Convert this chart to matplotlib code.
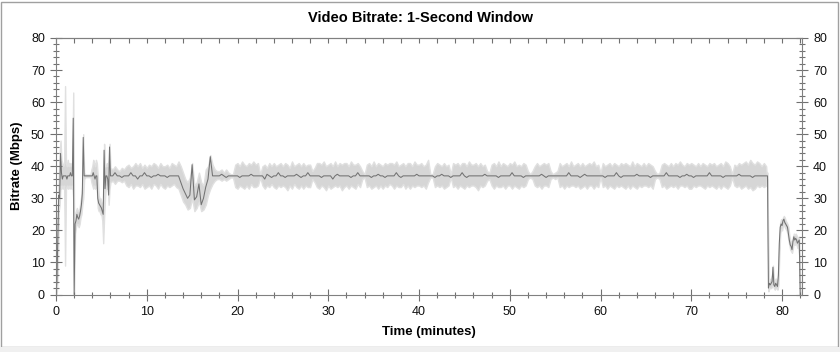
import numpy as np
import matplotlib
matplotlib.use("Agg")
import matplotlib.pyplot as plt
from matplotlib.ticker import MultipleLocator
from matplotlib.patches import Rectangle

plt.rcParams["font.family"] = ["Liberation Sans", "DejaVu Sans"]

# sample grid (minutes): fine at start/end, 15 s in the steady part
t_min = np.concatenate([np.arange(60) * 0.1, 6 + np.arange(290) * 0.25, 78.3 + np.arange(38) * 0.1])

# dark trace (Mbps)
rate = [
    # 0.0 - 5.9 (0.1 min)
    0.5, 4, 18, 31, 30, 44, 38, 36, 37, 37,
    37, 37, 36, 37, 37, 37, 38, 37, 37, 55,
    0, 22, 23, 25, 24, 23.5, 24.5, 26, 28, 31.5,
    49, 37, 37, 37, 37, 37, 37, 37, 37, 37,
    37, 38, 37, 36, 37, 37, 30, 28.5, 28, 27.5,
    27, 26, 25, 45, 33, 37, 37, 36, 31, 46,
    # 6.0 - 78.25 (0.25 min)
    37, 37, 38, 37,  37, 36.5, 37, 37,  37, 38, 37, 37,  36, 37, 37, 38,
    37, 37, 36.5, 37,  37, 37.5, 37, 37,  37, 36.5, 37, 37,  37, 37, 37, 35,
    33, 31.5, 30, 31,  40.5, 29.5, 30.5, 34.5,  28, 30, 33.5, 36,  43, 37, 37, 37,
    37, 37.5, 37, 36.5,  37, 37, 37, 37,  37, 36.5, 37, 37,  37, 37, 37.5, 37,
    37, 37, 37, 37,  36, 37.5, 37, 36.5,  37, 37, 38, 37,  37, 36.5, 37, 37,
    37, 37, 37.5, 37,  36.5, 37, 37, 38,  37, 37, 37, 37,  37, 36.5, 37, 37,
    37, 37, 36, 37,  37.5, 37, 37, 37,  37, 37, 36.5, 37,  37, 38, 37, 37,
    37, 37, 37, 36.5,  37, 37, 37.5, 37,  37, 36.5, 37, 37,  37, 37, 38, 37,
    36.5, 37, 37, 37,  37, 37, 37, 37.5,  37, 37, 37, 37,  37, 37, 37, 36.5,
    37, 37, 37.5, 37,  37, 37, 36.5, 37,  37, 37, 37, 38,  37, 36.5, 37, 37,
    37, 37, 37, 37,  37, 37.5, 37, 37,  37, 37, 37, 36.5,  37, 37, 37, 37,
    37, 38, 37, 37,  37, 37, 36.5, 37,  37, 37, 37, 37,  37, 37, 37.5, 37,
    36.5, 37, 37, 37,  37, 37, 37, 37,  37, 37, 38, 37,  37, 37, 37, 36.5,
    37, 37.5, 37, 37,  37, 37, 37, 37,  37, 37, 36.5, 37,  37, 37, 37, 38,
    37, 36.5, 37, 37,  37, 37, 37, 37,  37.5, 37, 37, 37,  37, 37, 36.5, 37,
    37, 37, 37, 37,  37, 38, 37, 37,  37, 37, 37, 36.5,  37, 37, 37.5, 37,
    37, 36.5, 37, 37,  37, 37, 37, 37,  38, 37, 37, 37,  37, 37, 36.5, 37,
    37, 37, 37, 37,  37, 37.5, 37, 37,  37, 37, 37, 36.5,  37, 37, 37, 37,
    37, 37,
    # 78.3 - 82.0 (0.1 min)
    37, 37, 2, 3.5, 3, 3.5, 4, 8.5,
    3, 2.5, 3.5, 3, 2.5, 6, 16, 21, 22,
    21.5, 23, 23.5, 22.5, 22, 21.5, 21, 19, 17, 15.5,
    15, 14, 16.5, 18, 17, 17.5, 17, 16, 16.5, 17,
    0,
]

# light envelope, lower edge (Mbps)
rate_lo = [
    0, 1, 8, 26, 28, 34, 33, 34, 33, 34,
    9, 33, 34, 33, 34, 33, 34, 33, 34, 30,
    0, 19, 21, 22, 22, 21, 22, 24, 25, 28,
    30, 36, 36.5, 36.6, 36.6, 36.6, 36.6, 36.6, 36.6, 35,
    34, 33, 34, 33, 34, 33, 27, 26, 26, 25,
    25, 23, 16, 24, 30, 34, 33, 34, 28, 33,
    35, 35.5, 34.5, 35.5,  35.5, 35, 35.5, 34,  33.5, 34.5, 33, 34,  34, 33.5, 34.5, 33,
    33.5, 34, 33, 34.5,  34, 33, 34.5, 33.5,  33, 34, 33.5, 34,  34.5, 33.5, 33, 31,
    29, 28, 26.5, 27,  30, 26, 27, 29,  26, 26.5, 28, 31,  33, 34.5, 35.5, 36,
    36, 35.5, 36, 35.5,  36, 36.5, 36.5, 33.5,  33, 34, 33.5, 33,  34, 33, 34.5, 33.5,
    33.5, 34, 36.5, 34,  33, 34, 33.5, 34.5,  33.5, 33, 34, 33.5,  34, 33.5, 32.5, 34,
    33, 34.5, 33.5, 33,  34, 33, 34, 33.5,  33.5, 36, 35, 33.5,  33, 34, 33.5, 32.5,
    34, 33, 33.5, 34,  33.5, 34, 32.5, 33.5,  34, 33, 34, 33.5,  33, 34.5, 33.5, 36,
    36.5, 33.5, 34, 33,  33.5, 34, 33, 34,  33, 34, 33.5, 34.5,  34, 33, 34, 33.5,
    33.5, 34.5, 33, 34,  33, 34, 33.5, 34,  34, 33.5, 34, 33,  35, 36.5, 36.5, 33.5,
    34, 33.5, 34, 33,  33.5, 34, 36.5, 33.5,  34, 33, 34, 33.5,  33, 34, 33.5, 34,
    34, 33.5, 32.5, 34,  33.5, 34, 35.5, 36,  34, 33, 34, 33.5,  33.5, 34, 33, 34,
    34, 33, 34, 33.5,  33, 34, 33.5, 34,  36, 36.5, 36, 34,  33.5, 34, 33, 34,
    34, 33.5, 36, 36.5,  36, 36.5, 33.5, 34,  33, 34, 33.5, 34,  34, 33.5, 34, 33,
    33.5, 34, 33, 34,  34, 33, 34, 33.5,  36.5, 33.5, 34, 33,  34, 33.5, 33, 34,
    33.5, 34, 33.5, 33,  34, 33, 34, 33.5,  33, 34, 33.5, 34,  34, 33.5, 34, 33,
    36, 36.5, 36, 33.5,  34, 33, 33.5, 34,  33.5, 34, 33, 34,  34, 33.5, 34, 33,
    33, 34, 33.5, 34,  34, 33.5, 33, 34,  33.5, 34, 33.5, 33,  34, 33, 34, 33.5,
    33, 34, 36.5, 34,  33.5, 34, 33, 33.5,  34, 33, 33.5, 32.5,  33, 34, 33.5, 34,
    33.5, 34,
    36, 36, 1, 2, 2, 2, 2.5, 3,
    2, 1.5, 2, 2, 1.5, 3, 12, 19, 20.5,
    20, 21.5, 22, 21, 20.5, 20, 19, 17, 15.5, 14,
    13.5, 13, 14.5, 16.5, 15.5, 16, 15.5, 14.5, 15, 12,
    0,
]

# light envelope, upper edge (Mbps)
rate_hi = [
    1, 6, 26, 36, 44, 48, 42, 41, 40, 41,
    65, 41, 40, 42, 40, 41, 40, 41, 40, 63,
    22, 25, 26, 27, 26, 26, 27, 29, 31, 34,
    50, 38, 37.5, 37.4, 37.4, 37.4, 37.4, 37.4, 37.4, 39,
    40, 42, 41, 40, 42, 41, 37, 31, 30, 30,
    29, 28, 27, 47, 40, 40, 41, 40, 42, 47,
    39.5, 39, 40, 39,  38.5, 39.5, 39, 40,  40.5, 39.5, 40, 41,  40, 41, 39.5, 40.5,
    39.5, 40.5, 40, 41,  40.5, 39.5, 41, 40,  40, 40.5, 39.5, 41,  40.5, 40, 41.5, 40,
    38, 36, 35, 36.5,  41, 34, 35, 38,  35, 34, 39, 40,  43.5, 40.5, 39, 38.5,
    38.5, 39, 38, 39,  38, 37.5, 37.5, 40.5,  41, 40, 41.5, 40.5,  40, 41, 40.5, 41.5,
    40.5, 41, 37.5, 40,  40.5, 39.5, 41, 40,  41, 40, 40.5, 41,  40, 41, 40.5, 39.5,
    41.5, 40, 40.5, 41,  40, 41, 40, 40.5,  40.5, 38.5, 39.5, 41,  41, 40.5, 41.5, 40,
    40.5, 41, 40, 41.5,  40, 41, 40.5, 41,  41, 40, 41.5, 40.5,  40.5, 41, 40, 38.5,
    37.5, 40.5, 41, 40,  41.5, 40, 41, 40.5,  40, 41, 40.5, 41,  41, 40.5, 41.5, 40,
    40.5, 41, 40, 41,  41, 40, 41.5, 40.5,  40.5, 41, 40, 40.5,  42, 37.5, 37.5, 40,
    41, 40.5, 40, 41,  40, 40.5, 37.5, 41,  40.5, 41, 40, 41,  41, 40, 41.5, 40.5,
    40.5, 41, 40, 41,  40, 40.5, 38.5, 38,  40.5, 41, 40, 41.5,  40, 41, 40.5, 40,
    41, 40.5, 41.5, 40,  40.5, 40, 41, 40.5,  38.5, 37.5, 38.5, 40,  41, 40, 40.5, 41,
    40.5, 41, 38.5, 37.5,  38, 38.5, 41, 40,  40.5, 41, 40, 41.5,  40, 40.5, 41, 40,
    41, 40, 40.5, 41,  40.5, 41.5, 40, 40.5,  38, 41, 40, 40.5,  41, 40, 41, 40.5,
    40, 41, 40.5, 41,  40.5, 40, 41.5, 40,  41, 40.5, 40, 41,  40, 41, 40.5, 40,
    38.5, 37.5, 38, 40.5,  41, 40.5, 40, 41,  40, 41, 40.5, 41.5,  40.5, 40, 41, 40.5,
    41, 40.5, 40, 41,  40, 41, 40.5, 40,  41, 40.5, 41, 40,  40.5, 41, 40, 41.5,
    41, 40, 37.5, 40.5,  40, 41, 40.5, 41,  41.5, 40.5, 42, 41,  40.5, 41.5, 41, 40,
    41, 40,
    38, 38, 4, 5, 4.5, 5, 6, 9,
    5, 4, 5, 4.5, 4, 9, 19, 22.5, 23.5,
    23, 24, 24.5, 24, 23, 22.5, 22, 21, 18.5, 17,
    16.5, 16, 18, 19, 18.5, 19, 18.5, 17.5, 18, 18,
    1,
]

fig = plt.figure(figsize=(8.4, 3.52), dpi=100)
ax = fig.add_axes([56 / 840, 57.5 / 352, 746 / 840, 256.5 / 352])

ax.fill_between(t_min, rate_lo, rate_hi, facecolor="#d6d6d6", edgecolor="#e0e0e0", lw=1.0, zorder=1)
ax.plot(t_min, rate, color="#727272", lw=0.75, zorder=2)

ax.set_xlim(0, 82.2)
ax.set_ylim(0, 80)
ax.xaxis.set_major_locator(MultipleLocator(10))
ax.xaxis.set_minor_locator(MultipleLocator(2))
ax.yaxis.set_major_locator(MultipleLocator(10))
ax.yaxis.set_minor_locator(MultipleLocator(2))
ax.tick_params(which="both", direction="inout", top=False, right=True, labelright=True,
               color="#707070", width=0.8, labelsize=9, labelcolor="#111111")
ax.tick_params(which="major", length=9)
ax.tick_params(which="minor", length=5)
for s in ax.spines.values():
    s.set_color("#808080")
    s.set_linewidth(0.8)

# top edge: inward ticks only
top = ax.secondary_xaxis("top")
top.xaxis.set_major_locator(MultipleLocator(10))
top.xaxis.set_minor_locator(MultipleLocator(2))
top.tick_params(which="both", direction="in", length=3.5, color="#707070", width=0.8, labeltop=False)
top.spines["top"].set_color("#808080")
top.spines["top"].set_linewidth(0.8)

ax.set_xlabel("Time (minutes)", fontsize=9.5, fontweight="bold", labelpad=6)
ax.set_ylabel("Bitrate (Mbps)", fontsize=9.5, fontweight="bold", labelpad=6)
fig.text(0.5, 1 - 18 / 352, "Video Bitrate: 1-Second Window", ha="center", va="center",
         fontsize=10.5, fontweight="bold")

# window frame
fig.patches.append(Rectangle((1 / 840, 5 / 352), 837 / 840, 345 / 352, transform=fig.transFigure,
                             fill=False, edgecolor="#a0a0a0", lw=1))
fig.patches.append(Rectangle((0, 0), 1, 5 / 352, transform=fig.transFigure,
                             facecolor="#f0f0f0", edgecolor="none"))

fig.savefig("out.png", dpi=100)
